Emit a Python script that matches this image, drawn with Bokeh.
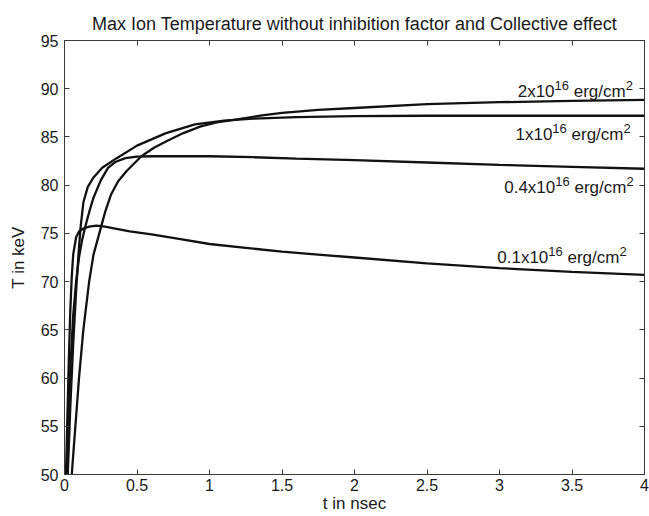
from bokeh.plotting import figure
from bokeh.models import Range1d, LinearAxis, FixedTicker, ColumnDataSource
from bokeh.core.properties import value
from bokeh.embed import file_html
from bokeh.resources import INLINE

# ---------------- data ----------------
t_01 = [0.0, 0.01, 0.02, 0.03, 0.04, 0.05, 0.06, 0.08, 0.1, 0.13, 0.17, 0.22, 0.28, 0.35,
        0.45, 0.6, 0.8, 1.0, 1.25, 1.5, 1.75, 2.0, 2.5, 3.0, 3.5, 4.0]
T_01 = [44, 50, 56, 62, 67, 70.5, 72.8, 74.6, 75.2, 75.5, 75.7, 75.8, 75.7, 75.5,
        75.2, 74.9, 74.4, 73.9, 73.5, 73.1, 72.8, 72.5, 71.9, 71.4, 71.0, 70.7]

t_04 = [0.0, 0.02, 0.04, 0.06, 0.08, 0.1, 0.12, 0.14, 0.17, 0.2, 0.25, 0.3, 0.35, 0.42,
        0.5, 0.6, 0.8, 1.0, 1.3, 1.6, 2.0, 2.5, 3.0, 3.5, 4.0]
T_04 = [42, 53, 61, 66.5, 70, 72.5, 74.2, 75.5, 77.2, 78.7, 80.5, 81.8, 82.4, 82.8,
        82.95, 83.0, 83.0, 83.0, 82.9, 82.75, 82.6, 82.35, 82.1, 81.9, 81.7]

t_1 = [0.0, 0.02, 0.04, 0.06, 0.08, 0.095, 0.11, 0.13, 0.16, 0.2, 0.26, 0.36, 0.5, 0.7,
       0.9, 1.1, 1.3, 1.6, 2.0, 2.5, 3.0, 3.5, 4.0]
T_1 = [40, 49, 57, 63.5, 69, 72.5, 75.5, 78.2, 79.8, 80.8, 81.8, 82.8, 84.1, 85.4,
       86.3, 86.7, 86.9, 87.05, 87.15, 87.2, 87.2, 87.2, 87.2]

t_2 = [0.0, 0.03, 0.05, 0.075, 0.1, 0.13, 0.17, 0.2, 0.24, 0.28, 0.32, 0.37, 0.43, 0.53,
       0.62, 0.71, 0.82, 0.94, 1.05, 1.18, 1.35, 1.5, 1.75, 2.0, 2.5, 3.0, 3.5, 4.0]
T_2 = [38, 45, 50, 55, 60, 65, 70, 72.8, 75, 77.2, 79, 80.4, 81.5, 83.0,
       83.9, 84.6, 85.4, 86.1, 86.5, 86.8, 87.2, 87.5, 87.8, 88.0, 88.4, 88.6, 88.75, 88.85]

label_coef = ["2x10", "1x10", "0.4x10", "0.1x10"]
label_exp = ["16", "16", "16", "16"]
label_unit = ["erg/cm", "erg/cm", "erg/cm", "erg/cm"]
label_unit_exp = ["2", "2", "2", "2"]
label_t = [3.92, 3.905, 3.925, 3.877]
label_T = [89.45, 84.95, 79.45, 72.2]

x_ticks = [0, 0.5, 1, 1.5, 2, 2.5, 3, 3.5, 4]
x_tick_labels = ["0", "0.5", "1", "1.5", "2", "2.5", "3", "3.5", "4"]
y_ticks = [50, 55, 60, 65, 70, 75, 80, 85, 90, 95]
y_tick_labels = ["50", "55", "60", "65", "70", "75", "80", "85", "90", "95"]

title_text = "Max Ion Temperature without inhibition factor and Collective effect"
x_label = "t in nsec"
y_label = "T in keV"

# ---------------- style ----------------
FONT = "Liberation Sans"
AX = "#3a3a3a"
TXT = "#1a1a1a"
BASE_SIZE = 17
SUP_SIZE = 13
SUP_RAISE = -6
LABEL_SHIFT = -3

ARIAL_W = {"0": .556, "1": .556, "2": .556, "3": .556, "4": .556, "5": .556, "6": .556,
           "7": .556, "8": .556, "9": .556, ".": .278, "x": .5, " ": .278, "e": .556,
           "r": .333, "g": .556, "/": .278, "c": .5, "m": .833}


def tw(s, size):
    return sum(ARIAL_W.get(ch, .55) for ch in s) * size


p = figure(width=649, height=516, output_backend="svg", toolbar_location=None,
           x_range=Range1d(0, 4), y_range=Range1d(50, 95),
           min_border_left=64, min_border_right=5, min_border_top=40, min_border_bottom=42)
p.background_fill_color = "white"
p.border_fill_color = "white"
p.outline_line_color = AX
p.xgrid.visible = False
p.ygrid.visible = False

p.title.text = title_text
p.title.align = "center"
p.title.text_font = FONT
p.title.text_font_size = "18px"
p.title.text_font_style = "normal"
p.title.text_color = TXT
p.title.offset = 0
p.title.standoff = 14

for ax in (p.xaxis[0], p.yaxis[0]):
    ax.major_tick_in = 5
    ax.major_tick_out = 0
    ax.minor_tick_line_color = None
    ax.axis_line_color = AX
    ax.major_tick_line_color = AX
    ax.major_label_text_font = FONT
    ax.major_label_text_font_size = "16px"
    ax.major_label_text_color = TXT
    ax.axis_label_text_font = FONT
    ax.axis_label_text_font_size = "17px"
    ax.axis_label_text_font_style = "normal"
    ax.axis_label_text_color = TXT

p.xaxis[0].ticker = FixedTicker(ticks=x_ticks)
p.xaxis[0].major_label_overrides = {float(v): s for v, s in zip(x_ticks, x_tick_labels)}
p.xaxis[0].axis_label = x_label
p.xaxis[0].major_label_standoff = 4
p.xaxis[0].axis_label_standoff = 0
p.yaxis[0].ticker = FixedTicker(ticks=y_ticks)
p.yaxis[0].major_label_overrides = {float(v): s for v, s in zip(y_ticks, y_tick_labels)}
p.yaxis[0].axis_label = y_label
p.yaxis[0].major_label_standoff = 6
p.yaxis[0].axis_label_standoff = 10

top = LinearAxis(ticker=FixedTicker(ticks=x_ticks))
right = LinearAxis(ticker=FixedTicker(ticks=y_ticks))
for ax in (top, right):
    ax.major_tick_in = 5
    ax.major_tick_out = 0
    ax.minor_tick_line_color = None
    ax.axis_line_color = AX
    ax.major_tick_line_color = AX
    ax.major_label_text_font_size = "0px"
    ax.major_label_text_color = None
    ax.major_label_standoff = 0
p.add_layout(top, "above")
p.add_layout(right, "right")

for tt, TT in ((t_01, T_01), (t_04, T_04), (t_1, T_1), (t_2, T_2)):
    p.line(tt, TT, line_color="#111111", line_width=2.3)

# labels with superscripts (space between exponent and unit handled by offset)
SPACE = tw(" ", BASE_SIZE)
off_unit = [-tw(e, SUP_SIZE) for e in label_unit_exp]
off_exp = [o - tw(u, BASE_SIZE) - SPACE for o, u in zip(off_unit, label_unit)]
off_coef = [o - tw(e, SUP_SIZE) for o, e in zip(off_exp, label_exp)]

src = ColumnDataSource(dict(x=label_t, y=label_T, coef=label_coef, exp=label_exp,
                            unit=label_unit, uexp=label_unit_exp,
                            o_unit=off_unit, o_exp=off_exp, o_coef=off_coef))
common = dict(x="x", y="y", source=src, text_font=value(FONT), text_color=TXT,
              text_align="right", text_baseline="alphabetic")
p.text(text="uexp", x_offset=0, y_offset=SUP_RAISE + LABEL_SHIFT,
       text_font_size=f"{SUP_SIZE}px", **common)
p.text(text="unit", x_offset="o_unit", y_offset=LABEL_SHIFT,
       text_font_size=f"{BASE_SIZE}px", **common)
p.text(text="exp", x_offset="o_exp", y_offset=SUP_RAISE + LABEL_SHIFT,
       text_font_size=f"{SUP_SIZE}px", **common)
p.text(text="coef", x_offset="o_coef", y_offset=LABEL_SHIFT,
       text_font_size=f"{BASE_SIZE}px", **common)

open("out.html", "w").write(file_html(p, INLINE))
